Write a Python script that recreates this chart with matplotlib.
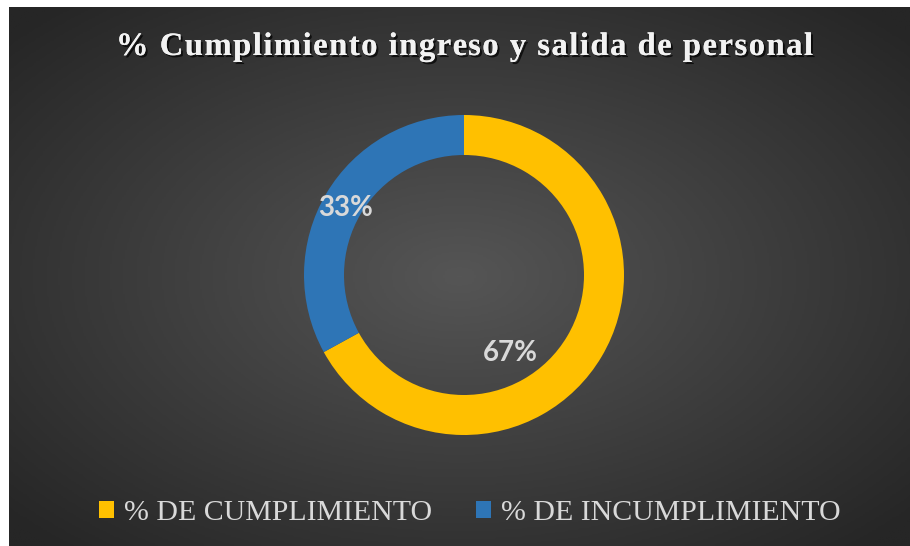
import matplotlib
matplotlib.use('Agg')
import matplotlib.pyplot as plt
import matplotlib.patheffects as pe
from matplotlib.patches import Patch
from matplotlib.font_manager import FontProperties
from matplotlib.textpath import TextToPath
import numpy as np

title = '% Cumplimiento ingreso y salida de personal'
labels = ['% DE CUMPLIMIENTO', '% DE INCUMPLIMIENTO']
values = [67, 33]
colors = ['#FFC000', '#2E75B6']

W, H = 910, 546
fig = plt.figure(figsize=(W / 100, H / 100), dpi=100)
fig.patch.set_facecolor('white')

# dark radial gradient background (chart area, white margin at top/left)
bg = fig.add_axes([9 / W, 0, 901 / W, 539 / H])
yy, xx = np.mgrid[-1:1:300j, -1:1:500j]
r = np.sqrt(xx ** 2 + yy ** 2)
grad = np.clip(r / 1.35, 0, 1)
cmap = matplotlib.colors.LinearSegmentedColormap.from_list('bg', ['#555555', '#262626'])
bg.imshow(grad, cmap=cmap, extent=[0, 1, 0, 1], aspect='auto', origin='lower')
bg.set_xlim(0, 1)
bg.set_ylim(0, 1)
bg.axis('off')

# donut
ax = fig.add_axes([(464 - 160) / W, 1 - (275 + 160) / H, 320 / W, 320 / H])
ax.set_facecolor('none')
wedges, _ = ax.pie(values, colors=colors, startangle=90, counterclock=False,
                   radius=1.0, wedgeprops=dict(width=0.25, edgecolor='none'))
ax.set_aspect('equal')
ax.set_xlim(-1, 1)
ax.set_ylim(-1, 1)

# data labels
lab_pos = [(0.29, -0.49), (-0.74, 0.42)]
for v, (x, y) in zip(values, lab_pos):
    ax.text(x, y, f'{v}%', ha='center', va='center', fontsize=20, fontweight='bold',
            color='#d9d9d9', family='Lato')

# title with letter spacing, drawn char by char
prop = FontProperties(family='Liberation Serif', weight='bold', size=23.5)
t2p = TextToPath()
spacing = 1.5  # extra px between letters
def width_px(s):
    if not s:
        return 0.0
    w, _, _ = t2p.get_text_width_height_descent(s, prop, ismath=False)
    return w * 100 / 72
total = width_px(title) + spacing * (len(title) - 1)
x0 = 464.5 - total / 2
shadow = [pe.withSimplePatchShadow(offset=(1.5, -1.5), shadow_rgbFace='black', alpha=0.7), pe.Normal()]
for i, ch in enumerate(title):
    if ch == ' ':
        continue
    x = x0 + width_px(title[:i]) + spacing * i
    fig.text(x / W, 1 - 55 / H, ch, ha='left', va='baseline', fontproperties=prop,
             color='#f2f2f2', path_effects=shadow)

handles = [Patch(facecolor=c, edgecolor='none') for c in colors]
leg = fig.legend(handles, labels, loc='center', bbox_to_anchor=(470 / W, 1 - 513 / H),
                 ncol=2, frameon=False, prop={'family': 'Liberation Serif', 'size': 21.5},
                 handlelength=0.5, handleheight=0.5, handletextpad=0.35, columnspacing=1.45,
                 labelcolor='#d9d9d9')

fig.savefig('out.png', dpi=100, facecolor=fig.get_facecolor())
